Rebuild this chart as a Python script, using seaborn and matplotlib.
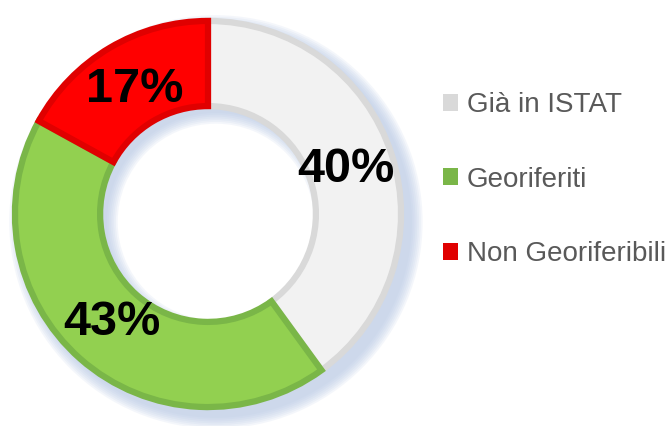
import matplotlib
matplotlib.use("Agg")
import matplotlib.pyplot as plt
import seaborn as sns
from matplotlib.patches import Patch

# data
categories = ["Già in ISTAT", "Georiferiti", "Non Georiferibili"]
shares = [40, 43, 17]
fill_colors = ["#f2f2f2", "#92d050", "#ff0000"]
edge_colors = ["#d9d9d9", "#7ab648", "#e00000"]

sns.set_theme(style="white")
plt.rcParams["font.family"] = ["Liberation Sans", "DejaVu Sans"]

fig = plt.figure(figsize=(6.69, 4.26), dpi=100)
ax = fig.add_axes([10 / 669, 14 / 426, 396 / 669, 396 / 426])

ring_w = 0.44

# soft bluish shadow offset to the bottom right
for i in range(7):
    d = 0.009 * i
    ax.pie([1], radius=0.99 + d, center=(0.04, -0.04), colors=["#b8c9e6"],
           startangle=90, wedgeprops=dict(width=ring_w + 2 * d, linewidth=0, alpha=0.15))

wedges, texts, autotexts = ax.pie(
    shares, colors=fill_colors, startangle=90, counterclock=False, radius=0.975,
    autopct="%d%%", pctdistance=0.75,
    wedgeprops=dict(width=ring_w - 0.01, linewidth=0),
    textprops=dict(fontsize=35, fontweight="bold", color="black"),
)
for w, ec in zip(wedges, edge_colors):
    w.set_edgecolor(ec)
    w.set_linewidth(4.5)
    w.set_joinstyle("miter")

ax.set_xlim(-1, 1)
ax.set_ylim(-1, 1)
ax.set_aspect("equal")
ax.axis("off")

handles = [Patch(facecolor=c, edgecolor="none") for c in edge_colors]
fig.legend(handles, categories, loc="upper left", bbox_to_anchor=(443 / 669, 1 - 92 / 426),
           frameon=False, fontsize=20, labelcolor="#595959",
           handlelength=0.55, handleheight=0.55, handletextpad=0.3,
           labelspacing=1.75, borderpad=0, borderaxespad=0)

fig.savefig("out.png", dpi=100)
